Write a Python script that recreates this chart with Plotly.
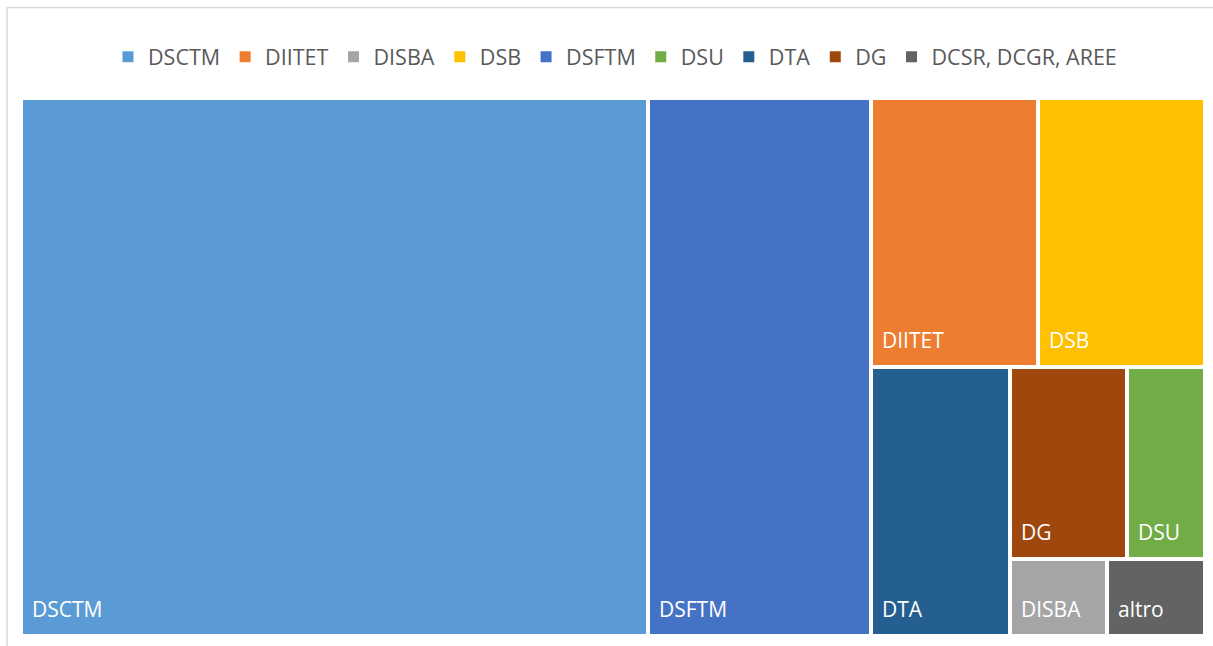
import plotly.graph_objects as go

# ---- data ----
categories = ["DSCTM", "DIITET", "DISBA", "DSB", "DSFTM", "DSU", "DTA", "DG", "DCSR, DCGR, AREE"]
values = [45, 6, 1, 6, 16, 2, 5, 3, 1]
tile_labels = ["DSCTM", "DIITET", "DISBA", "DSB", "DSFTM", "DSU", "DTA", "DG", "altro"]
colors = ["#5B9BD5", "#ED7D31", "#A5A5A5", "#FFC000", "#4472C4", "#70AD47", "#255E91", "#9E480E", "#636363"]

# tiling structure (as produced by the original treemap): "h" = side by side, "v" = stacked (top first)
structure = ("h", ["DSCTM", "DSFTM",
                   ("v", [("h", ["DIITET", "DSB"]),
                          ("h", ["DTA",
                                 ("v", [("h", ["DG", "DSU"]),
                                        ("h", ["DISBA", "DCSR, DCGR, AREE"])])])])])

val = dict(zip(categories, values))


def total(node):
    if isinstance(node, str):
        return val[node]
    return sum(total(c) for c in node[1])


rects = {}


def layout(node, x0, y0, x1, y1):
    # y0 = bottom, y1 = top
    if isinstance(node, str):
        rects[node] = (x0, y0, x1, y1)
        return
    kind, children = node
    s = total(node)
    if kind == "h":
        x = x0
        for c in children:
            w = (x1 - x0) * total(c) / s
            layout(c, x, y0, x + w, y1)
            x += w
    else:
        y = y1
        for c in children:
            h = (y1 - y0) * total(c) / s
            layout(c, x0, y - h, x1, y)
            y -= h


layout(structure, 0.0, 0.0, 1.0, 1.0)

fig = go.Figure()
for cat, col in zip(categories, colors):
    x0, y0, x1, y1 = rects[cat]
    fig.add_trace(go.Bar(
        x=[(x0 + x1) / 2], y=[y1 - y0], base=[y0], width=[x1 - x0],
        name=cat, marker=dict(color=col, line=dict(color="white", width=4)),
        hoverinfo="name", showlegend=False,
    ))

# legend entries (square swatches)
for cat, col in zip(categories, colors):
    fig.add_trace(go.Scatter(
        x=[None], y=[None], mode="markers", name=cat,
        marker=dict(symbol="square", size=11, color=col), showlegend=True,
    ))

for cat, lab in zip(categories, tile_labels):
    x0, y0, x1, y1 = rects[cat]
    fig.add_annotation(x=x0, y=y0, text=lab, showarrow=False, xanchor="left", yanchor="bottom",
                       xshift=9, yshift=11, font=dict(color="white", size=21, family="Open Sans"))

fig.update_layout(
    width=1213, height=646,
    margin=dict(l=21, r=8, t=98, b=10),
    paper_bgcolor="white", plot_bgcolor="white",
    showlegend=True, barmode="overlay", bargap=0,
    xaxis=dict(range=[0, 1], visible=False, fixedrange=True),
    yaxis=dict(range=[0, 1], visible=False, fixedrange=True),
    legend=dict(orientation="h", xref="container", yref="container", x=0.507, xanchor="center",
                y=0.912, yanchor="middle", font=dict(size=21.5, color="#595959", family="Open Sans"),
                traceorder="normal", itemclick=False, itemdoubleclick=False),
    font=dict(family="Open Sans"),
    shapes=[
        dict(type="line", xref="paper", yref="paper", x0=(7 - 21) / 1184, x1=(1213 - 21) / 1184,
             y0=(646 - 10 - 7.5) / 538, y1=(646 - 10 - 7.5) / 538, line=dict(color="#D9D9D9", width=1.5)),
        dict(type="line", xref="paper", yref="paper", x0=(7 - 21) / 1184, x1=(7 - 21) / 1184,
             y0=-10 / 538, y1=(646 - 10 - 7.5) / 538, line=dict(color="#D9D9D9", width=1.5)),
    ],
)

fig.write_html("out.html", config={"displayModeBar": False},
               post_script="document.body.style.margin='0';document.body.style.overflow='hidden';")
